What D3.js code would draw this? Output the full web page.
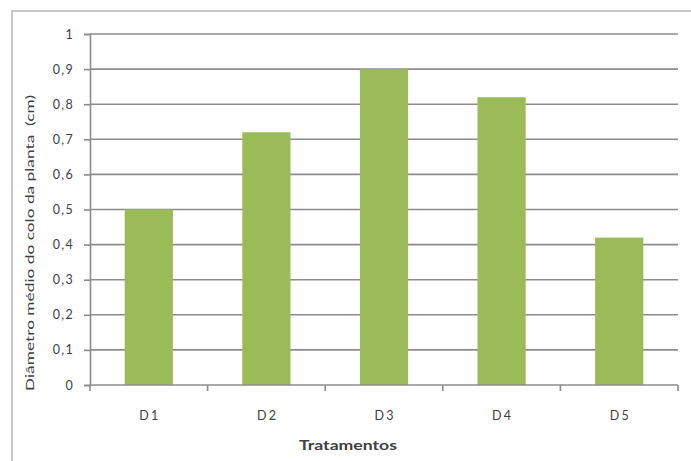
<!DOCTYPE html>
<html>
<head>
<meta charset="utf-8">
<script src="https://cdn.jsdelivr.net/npm/d3@7"></script>
<style>
  html, body { margin: 0; padding: 0; background: #ffffff; }
  svg { display: block; }
  text { font-family: Lato, "Open Sans", sans-serif; fill: #404040; }
</style>
</head>
<body>
<svg id="chart" width="691" height="461"></svg>
<script>
// Mean stem-collar diameter per treatment
const categories = ["D1", "D2", "D3", "D4", "D5"];
const values = [0.5, 0.72, 0.9, 0.82, 0.42];
const yTicks = [0, 0.1, 0.2, 0.3, 0.4, 0.5, 0.6, 0.7, 0.8, 0.9, 1];
const xTitle = "Tratamentos";
const yTitle = "Diâmetro médio do colo da planta  (cm)";

const svg = d3.select("#chart");
const margin = { left: 90, right: 13, top: 34, bottom: 76 };
const W = 691, H = 461;

// chart frame
svg.append("path")
  .attr("d", `M12,${H + 2} L12,11 L${W + 2},11`)
  .attr("fill", "none")
  .attr("stroke", "#c8c8c8")
  .attr("stroke-width", 2);

const x = d3.scaleBand()
  .domain(categories)
  .range([margin.left, W - margin.right])
  .paddingInner(0.59)
  .paddingOuter(0.295);

const y = d3.scaleLinear()
  .domain([0, 1])
  .range([H - margin.bottom, margin.top]);

const fmt = v => (v === 0 || v === 1) ? String(v) : d3.format(".1f")(v).replace(".", ",");

// horizontal gridlines
svg.append("g")
  .selectAll("line")
  .data(yTicks.filter(d => d > 0))
  .join("line")
  .attr("x1", margin.left)
  .attr("x2", W - margin.right)
  .attr("y1", d => y(d))
  .attr("y2", d => y(d))
  .attr("stroke", "#8c8c8c")
  .attr("stroke-width", 1.6);

// bars
svg.append("g")
  .selectAll("rect")
  .data(values)
  .join("rect")
  .attr("x", (d, i) => x(categories[i]))
  .attr("width", x.bandwidth())
  .attr("y", d => y(d))
  .attr("height", d => y(0) - y(d))
  .attr("fill", "#9bbb59");

// y axis
const yAxis = svg.append("g")
  .attr("transform", `translate(${margin.left},0)`)
  .call(d3.axisLeft(y).tickValues(yTicks).tickFormat(fmt).tickSize(6).tickPadding(10));
yAxis.select(".domain").attr("stroke", "#8c8c8c").attr("stroke-width", 1.6);
yAxis.selectAll(".tick line").attr("stroke", "#8c8c8c").attr("stroke-width", 1.6);
yAxis.selectAll(".tick text")
  .style("font-size", "12.5px")
  .style("letter-spacing", "1.3px")
  .attr("fill", "#404040");

// x axis, ticks on category boundaries
const step = x.step();
const boundaries = d3.range(categories.length + 1).map(i => margin.left + i * step);
const xAxisG = svg.append("g");
xAxisG.append("line")
  .attr("x1", margin.left).attr("x2", W - margin.right)
  .attr("y1", y(0)).attr("y2", y(0))
  .attr("stroke", "#8c8c8c").attr("stroke-width", 1.6);
xAxisG.selectAll("line.tk")
  .data(boundaries)
  .join("line")
  .attr("class", "tk")
  .attr("x1", d => d).attr("x2", d => d)
  .attr("y1", y(0)).attr("y2", y(0) + 6)
  .attr("stroke", "#8c8c8c").attr("stroke-width", 1.6);
xAxisG.selectAll("text")
  .data(categories)
  .join("text")
  .attr("x", d => x(d) + x.bandwidth() / 2)
  .attr("y", y(0) + 35)
  .attr("text-anchor", "middle")
  .attr("textLength", 19)
  .attr("lengthAdjust", "spacing")
  .style("font-size", "12.5px")
  .text(d => d);

// axis titles
svg.append("text")
  .attr("x", 348)
  .attr("y", 450)
  .attr("text-anchor", "middle")
  .attr("textLength", 98)
  .attr("lengthAdjust", "spacingAndGlyphs")
  .style("font-size", "13px")
  .style("font-weight", "bold")
  .text(xTitle);

svg.append("text")
  .attr("transform", "translate(34,243) rotate(-90)")
  .attr("text-anchor", "middle")
  .attr("textLength", 296)
  .attr("lengthAdjust", "spacingAndGlyphs")
  .style("white-space", "pre")
  .style("font-size", "12px")
  .text(yTitle);
</script>
</body>
</html>
